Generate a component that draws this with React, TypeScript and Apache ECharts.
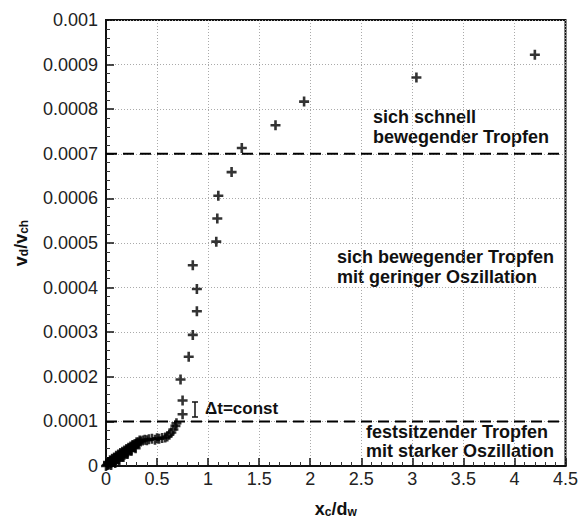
import React, { useEffect, useRef } from "react";
import * as echarts from "echarts";

// Droplet centre position x_c/d_w
const xc: number[] = [
  0.0, 0.01, 0.02, 0.02, 0.03, 0.04, 0.05, 0.05, 0.06, 0.07, 0.08, 0.09, 0.1, 0.11, 0.12, 0.13,
  0.14, 0.15, 0.16, 0.17, 0.18, 0.19, 0.2, 0.21, 0.22, 0.23, 0.24, 0.25, 0.26, 0.27, 0.28, 0.29,
  0.3, 0.31, 0.32, 0.34, 0.36, 0.38, 0.4, 0.42, 0.45, 0.48, 0.5, 0.52, 0.55, 0.58, 0.6, 0.62,
  0.64, 0.66, 0.68, 0.69,
  0.02, 0.04, 0.06, 0.08, 0.1, 0.12, 0.14, 0.16, 0.18, 0.2, 0.22, 0.24, 0.26, 0.28, 0.3, 0.33,
  0.05, 0.09, 0.13, 0.17, 0.21, 0.25, 0.29,
  0.75, 0.75, 0.73, 0.81, 0.85, 0.89, 0.89, 0.85, 1.08, 1.09, 1.1, 1.23, 1.33, 1.66, 1.94, 3.04, 4.2,
];
// Droplet velocity v_d/v_ch
const vd: number[] = [
  0, 2e-6, 3e-6, 7e-6, 4e-6, 9e-6, 6e-6, 11e-6, 12e-6, 9e-6, 15e-6, 12e-6, 18e-6, 19e-6, 15e-6, 23e-6,
  24e-6, 20e-6, 27e-6, 29e-6, 25e-6, 32e-6, 34e-6, 30e-6, 37e-6, 39e-6, 35e-6, 42e-6, 44e-6, 46e-6, 42e-6, 48e-6,
  50e-6, 51e-6, 53e-6, 55e-6, 57e-6, 59e-6, 58e-6, 60e-6, 61e-6, 59e-6, 62e-6, 61e-6, 63e-6, 64e-6, 66e-6, 70e-6,
  75e-6, 82e-6, 90e-6, 96e-6,
  9e-6, 13e-6, 16e-6, 19e-6, 23e-6, 26e-6, 29e-6, 32e-6, 35e-6, 38e-6, 41e-6, 44e-6, 47e-6, 49e-6, 53e-6, 57e-6,
  2e-6, 7e-6, 13e-6, 20e-6, 27e-6, 34e-6, 40e-6,
  116e-6, 147e-6, 194e-6, 245e-6, 294e-6, 347e-6, 397e-6, 450e-6, 503e-6, 555e-6, 606e-6, 659e-6, 713e-6,
  764e-6, 817e-6, 871e-6, 922e-6,
];
// Regime boundaries
const boundaries: number[] = [0.0001, 0.0007];
const xRange: number[] = [0, 4.5];
// Regime labels
const regimeLabels: string[] = [
  "sich schnell\nbewegender Tropfen",
  "sich bewegender Tropfen\nmit geringer Oszillation",
  "festsitzender Tropfen\nmit starker Oszillation",
];
const dtLabel = "\u0394t=const";

const FONT = "'Liberation Sans', Arial, Helvetica, sans-serif";
const PLUS = "path://M3.7,0H6.3V3.7H10V6.3H6.3V10H3.7V6.3H0V3.7H3.7Z";

export default function App() {
  const ref = useRef<HTMLDivElement>(null);
  useEffect(() => {
    document.body.style.margin = "0";
    if (!ref.current) return;
    const chart = echarts.init(ref.current, null, { renderer: "svg" });
    const data = xc.map((x, i) => [x, vd[i]]);
    const textEl = (text: string, x: number, y: number, lh: number) => ({
      type: "text",
      left: x,
      top: y,
      style: {
        text,
        font: `bold 18px ${FONT}`,
        fill: "#111",
        lineHeight: lh,
      },
      silent: true,
    });
    const nameRich = {
      b: { fontSize: 18, fontWeight: "bold", fontFamily: FONT, color: "#111", lineHeight: 22, verticalAlign: "bottom" },
      s: { fontSize: 12, fontWeight: "bold", fontFamily: FONT, color: "#111", lineHeight: 12, verticalAlign: "bottom" },
    };
    const boundarySeries = boundaries.map((b) => ({
      type: "line",
      data: xRange.map((x) => [x, b]),
      symbol: "none",
      silent: true,
      lineStyle: { color: "#000", type: [11, 6], width: 2 },
      z: 3,
    }));
    chart.setOption({
      animation: false,
      backgroundColor: "#fff",
      grid: { left: 106, right: 15, top: 20, bottom: 54, show: true, borderColor: "#111", borderWidth: 2 },
      xAxis: {
        type: "value",
        min: 0,
        max: 4.5,
        interval: 0.5,
        name: "{b|x}{s|c}{b|/d}{s|w}",
        nameLocation: "middle",
        nameGap: 30,
        nameTextStyle: { rich: nameRich },
        axisLine: { show: true, lineStyle: { color: "#111", width: 2 } },
        axisTick: { show: true, inside: true, length: 8, lineStyle: { color: "#111", width: 1.5 } },
        minorTick: { show: true, splitNumber: 5, length: 4, lineStyle: { color: "#333", width: 1 } },
        axisLabel: { fontSize: 18, fontFamily: FONT, color: "#222", margin: 4 },
        splitLine: { show: true, lineStyle: { color: "#aaa", type: [1, 2], width: 1 } },
      },
      yAxis: {
        type: "value",
        min: 0,
        max: 0.001,
        interval: 0.0001,
        name: "{b|v}{s|d}{b|/v}{s|ch}",
        nameLocation: "middle",
        nameGap: 76,
        nameRotate: 90,
        nameTextStyle: { rich: nameRich },
        axisLine: { show: true, lineStyle: { color: "#111", width: 2 } },
        axisTick: { show: true, inside: true, length: 8, lineStyle: { color: "#111", width: 1.5 } },
        minorTick: { show: true, splitNumber: 5, length: 4, lineStyle: { color: "#333", width: 1 } },
        axisLabel: {
          fontSize: 18,
          fontFamily: FONT,
          color: "#222",
          margin: 8,
          formatter: (v: number) => (v === 0 ? "0" : String(+v.toFixed(4))),
        },
        splitLine: { show: true, lineStyle: { color: "#aaa", type: [1, 2], width: 1 } },
      },
      series: [
        ...boundarySeries,
        {
          type: "scatter",
          data,
          symbol: PLUS,
          symbolSize: 10,
          itemStyle: { color: "#000" },
          z: 5,
        },
      ],
      graphic: [
        textEl(regimeLabels[0], 373, 107, 20),
        textEl(regimeLabels[1], 337, 247, 20),
        textEl(regimeLabels[2], 366, 422, 19.5),
        {
          type: "text",
          left: 205,
          top: 400,
          style: { text: dtLabel, font: `bold 17px ${FONT}`, fill: "#111" },
          silent: true,
        },
        { type: "line", shape: { x1: 195, y1: 402, x2: 195, y2: 417 }, style: { stroke: "#111", lineWidth: 1.5 } },
        { type: "line", shape: { x1: 192, y1: 402, x2: 198, y2: 402 }, style: { stroke: "#111", lineWidth: 1.5 } },
        { type: "line", shape: { x1: 192, y1: 417, x2: 198, y2: 417 }, style: { stroke: "#111", lineWidth: 1.5 } },
      ],
    });
    return () => chart.dispose();
  }, []);
  return <div ref={ref} style={{ width: 581, height: 523 }} />;
}
